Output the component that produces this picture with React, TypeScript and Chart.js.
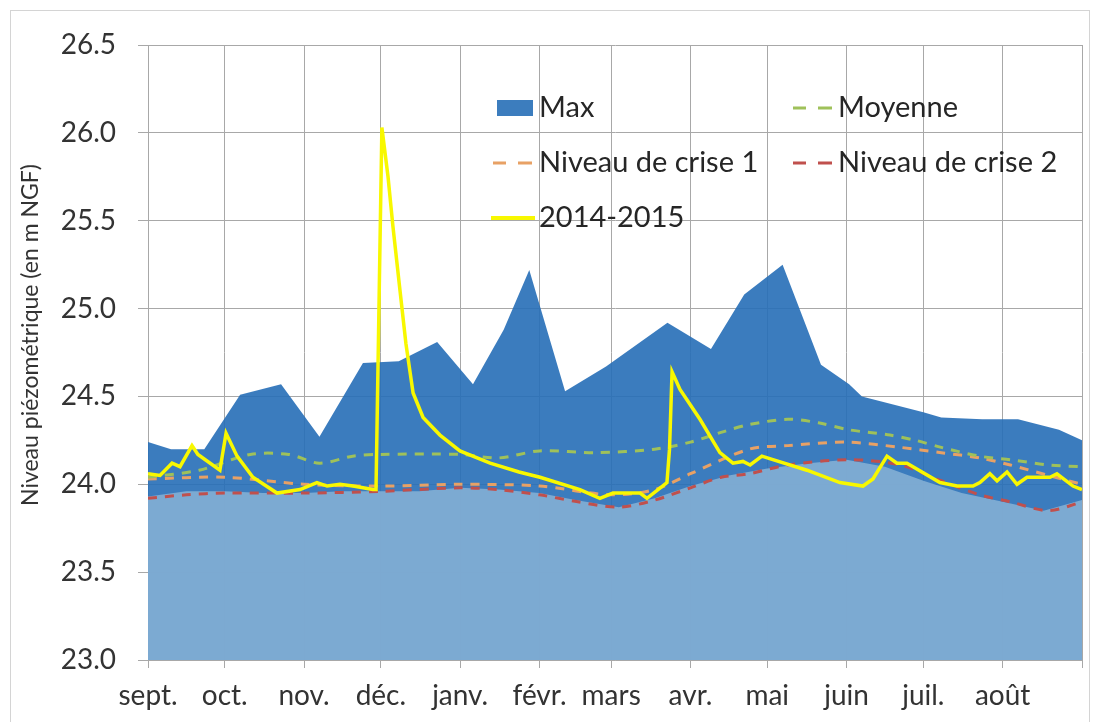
import React, { useEffect, useRef } from 'react';
import { Chart, registerables } from 'chart.js';

Chart.register(...registerables);

const FONT = 'Lato, "Open Sans", sans-serif';

// Axis
const monthLabels = ['sept.', 'oct.', 'nov.', 'déc.', 'janv.', 'févr.', 'mars', 'avr.', 'mai', 'juin', 'juil.', 'août'];
const monthStartDays = [0, 30, 61, 91, 122, 153, 181, 212, 242, 273, 303, 334, 365];

// Max (envelope top)
const maxDays = [0, 9, 22, 36, 52, 67, 84, 98, 113, 127, 139, 149, 163, 179, 203, 220, 233, 248, 263, 274, 279, 303, 310, 326, 340, 356, 365];
const maxValues = [24.24, 24.2, 24.2, 24.51, 24.57, 24.27, 24.69, 24.7, 24.81, 24.57, 24.88, 25.22, 24.53, 24.67, 24.92, 24.77, 25.08, 25.25, 24.68, 24.57, 24.5, 24.41, 24.38, 24.37, 24.37, 24.31, 24.25];

// Min (lower envelope)
const minDays = [0, 15, 30, 45, 61, 76, 91, 106, 122, 137, 153, 167, 184, 198, 212, 227, 242, 258, 273, 288, 303, 318, 334, 350, 365];
const minValues = [23.93, 23.96, 23.96, 23.95, 23.95, 23.96, 23.96, 23.96, 23.98, 23.97, 23.95, 23.91, 23.87, 23.92, 23.99, 24.05, 24.09, 24.12, 24.14, 24.1, 24.02, 23.95, 23.9, 23.85, 23.91];

// Moyenne
const moyDays = [0, 20, 40, 55, 67, 80, 91, 122, 137, 153, 175, 198, 212, 225, 235, 250, 262, 274, 290, 300, 310, 325, 337, 352, 365];
const moyValues = [24.04, 24.08, 24.17, 24.17, 24.12, 24.16, 24.17, 24.17, 24.15, 24.19, 24.18, 24.2, 24.24, 24.3, 24.34, 24.37, 24.35, 24.31, 24.28, 24.25, 24.21, 24.16, 24.14, 24.11, 24.1];

// Niveau de crise 1
const crise1Days = [0, 30, 61, 91, 122, 153, 181, 198, 212, 235, 250, 273, 294, 310, 325, 337, 352, 365];
const crise1Values = [24.03, 24.04, 24.0, 23.99, 24.0, 23.99, 23.94, 23.97, 24.06, 24.2, 24.22, 24.24, 24.21, 24.18, 24.15, 24.11, 24.05, 24.0];

// Niveau de crise 2
const crise2Days = [0, 15, 30, 61, 91, 122, 137, 153, 168, 184, 198, 212, 224, 235, 250, 274, 294, 310, 325, 337, 352, 365];
const crise2Values = [23.92, 23.94, 23.95, 23.95, 23.96, 23.98, 23.97, 23.94, 23.9, 23.87, 23.91, 23.98, 24.04, 24.06, 24.11, 24.14, 24.11, 24.02, 23.94, 23.9, 23.85, 23.9];

// 2014-2015
const yearDays = [0, 4.7, 9.4, 12.5, 17.2, 19.5, 28.1, 30.5, 34.8, 41, 50.4, 59.4, 66, 70, 75, 80.1, 87.9, 89.1, 91.4, 93.8, 95.7, 98.5, 100.8, 103.6, 107.5, 114.1, 121.9, 133.7, 145, 153.2, 168.8, 176.6, 181.7, 192.3, 195, 202.8, 203.8, 204.8, 207.9, 215.7, 223.5, 228.6, 232.5, 235.3, 239.9, 244.2, 257.5, 270.4, 279.4, 283.3, 288.8, 292.7, 296.6, 309.5, 316.2, 322.4, 325.1, 329, 331.8, 335.7, 339.6, 343.5, 352.5, 355.2, 361.5, 365];
const yearValues = [24.06, 24.05, 24.12, 24.1, 24.22, 24.17, 24.08, 24.29, 24.16, 24.04, 23.95, 23.97, 24.01, 23.99, 24.0, 23.99, 23.97, 23.97, 26.03, 25.75, 25.47, 25.1, 24.8, 24.52, 24.38, 24.28, 24.19, 24.12, 24.07, 24.04, 23.97, 23.92, 23.95, 23.95, 23.92, 24.01, 24.2, 24.64, 24.54, 24.37, 24.18, 24.12, 24.13, 24.11, 24.16, 24.14, 24.08, 24.01, 23.99, 24.03, 24.16, 24.12, 24.12, 24.01, 23.99, 23.99, 24.01, 24.06, 24.02, 24.07, 24.0, 24.04, 24.04, 24.06, 23.99, 23.97];

const toPoints = (xs: number[], ys: number[]) => xs.map((x, i) => ({ x, y: ys[i] }));

const DARK = 'rgba(38,110,183,0.9)';
const DARK_LEGEND = 'rgb(60,125,190)';
const LIGHT = 'rgba(132,175,212,0.9)';
const MOY = '#9fc15a';
const CRISE1 = '#e8a165';
const CRISE2 = '#c0504d';
const YELLOW = '#f8f800';

const decorPlugin = {
  id: 'decor',
  beforeDraw(chart: any) {
    const ctx = chart.ctx;
    ctx.save();
    ctx.fillStyle = '#ffffff';
    ctx.fillRect(0, 0, chart.width, chart.height);
    ctx.restore();
  },
  afterDraw(chart: any) {
    const ctx = chart.ctx;
    ctx.save();
    // outer border
    ctx.strokeStyle = '#d4d4d4';
    ctx.lineWidth = 1;
    ctx.strokeRect(10.5, 10.5, 1079, 730);

    // y-axis title
    ctx.save();
    ctx.translate(31, 335);
    ctx.rotate(-Math.PI / 2);
    ctx.fillStyle = '#333333';
    ctx.font = `23px ${FONT}`;
    ctx.textAlign = 'center';
    ctx.textBaseline = 'middle';
    ctx.fillText('Niveau piézométrique (en m NGF)', 0, 0);
    ctx.restore();

    // legend
    ctx.font = `29px ${FONT}`;
    ctx.fillStyle = '#262626';
    ctx.textBaseline = 'middle';
    ctx.textAlign = 'left';
    const rows = [108, 163, 218];
    const col1 = 493;
    const col2 = 793;
    const dashSym = (x: number, y: number, color: string) => {
      ctx.save();
      ctx.strokeStyle = color;
      ctx.lineWidth = 3;
      ctx.beginPath();
      ctx.moveTo(x, y); ctx.lineTo(x + 13, y);
      ctx.moveTo(x + 25, y); ctx.lineTo(x + 39, y);
      ctx.stroke();
      ctx.restore();
    };
    // Max
    ctx.fillStyle = DARK_LEGEND;
    ctx.fillRect(col1 + 4, rows[0] - 8, 36, 16);
    ctx.fillStyle = '#262626';
    ctx.fillText('Max', col1 + 46, rows[0]);
    // Moyenne
    dashSym(col2, rows[0], MOY);
    ctx.fillText('Moyenne', col2 + 45, rows[0]);
    // crise 1
    dashSym(col1, rows[1], CRISE1);
    ctx.fillText('Niveau de crise 1', col1 + 46, rows[1]);
    // crise 2
    dashSym(col2, rows[1], CRISE2);
    ctx.fillText('Niveau de crise 2', col2 + 45, rows[1]);
    // 2014-2015
    ctx.save();
    ctx.strokeStyle = YELLOW;
    ctx.lineWidth = 4;
    ctx.beginPath();
    ctx.moveTo(col1 - 2, rows[2]);
    ctx.lineTo(col1 + 42, rows[2]);
    ctx.stroke();
    ctx.restore();
    ctx.fillText('2014-2015', col1 + 46, rows[2]);
    ctx.restore();
  },
};

export default function App() {
  const ref = useRef<HTMLCanvasElement>(null);
  useEffect(() => {
    if (!ref.current) return;
    const dashed = (label: string, xs: number[], ys: number[], color: string, order: number) => ({
      label,
      data: toPoints(xs, ys),
      borderColor: color,
      borderWidth: 3,
      borderDash: [9, 8],
      pointRadius: 0,
      fill: false,
      tension: 0.3,
      order,
    });
    const chart = new Chart(ref.current, {
      type: 'line',
      data: {
        datasets: [
          {
            label: '2014-2015',
            data: toPoints(yearDays, yearValues),
            borderColor: YELLOW,
            borderWidth: 3.5,
            pointRadius: 0,
            fill: false,
            tension: 0,
            order: 0,
          },
          dashed('Moyenne', moyDays, moyValues, MOY, 1),
          dashed('Niveau de crise 1', crise1Days, crise1Values, CRISE1, 2),
          dashed('Niveau de crise 2', crise2Days, crise2Values, CRISE2, 3),
          {
            label: 'Min',
            data: toPoints(minDays, minValues),
            borderWidth: 0,
            borderColor: 'rgba(0,0,0,0)',
            backgroundColor: LIGHT,
            pointRadius: 0,
            fill: 'start',
            tension: 0,
            order: 4,
          },
          {
            label: 'Max',
            data: toPoints(maxDays, maxValues),
            borderWidth: 0,
            borderColor: 'rgba(0,0,0,0)',
            backgroundColor: DARK,
            pointRadius: 0,
            fill: 'start',
            tension: 0,
            order: 5,
          },
        ],
      } as any,
      options: {
        animation: false,
        responsive: true,
        maintainAspectRatio: false,
        layout: { padding: { top: 45, right: 14, bottom: 0, left: 0 } },
        plugins: {
          legend: { display: false },
          tooltip: { enabled: false },
        },
        scales: {
          x: {
            type: 'linear',
            min: 0,
            max: 365,
            afterBuildTicks: (axis: any) => {
              axis.ticks = monthStartDays.map((v) => ({ value: v }));
            },
            afterFit: (scale: any) => {
              scale.height = 62;
            },
            ticks: {
              autoSkip: false,
              maxRotation: 0,
              minRotation: 0,
              padding: 11,
              color: '#333333',
              font: { family: FONT, size: 28 },
              callback: (value: any) => {
                const i = monthStartDays.indexOf(Number(value));
                return i >= 0 && i < monthLabels.length ? monthLabels[i] : '';
              },
            },
            grid: { color: '#a8a8a8', lineWidth: 1, tickLength: 8, drawTicks: true },
            border: { color: '#a8a8a8' },
          },
          y: {
            type: 'linear',
            min: 23,
            max: 26.5,
            afterFit: (scale: any) => {
              scale.width = 148;
            },
            ticks: {
              stepSize: 0.5,
              padding: 22,
              color: '#333333',
              font: { family: FONT, size: 28 },
              callback: (value: any) => Number(value).toFixed(1),
            },
            grid: { color: '#a8a8a8', lineWidth: 1, tickLength: 10, drawTicks: true },
            border: { color: '#a8a8a8' },
          },
        },
      } as any,
      plugins: [decorPlugin],
    });
    return () => chart.destroy();
  }, []);
  return (
    <div style={{ position: 'fixed', left: 0, top: 0, width: 1096, height: 722, background: '#fff' }}>
      <canvas ref={ref} />
    </div>
  );
}
